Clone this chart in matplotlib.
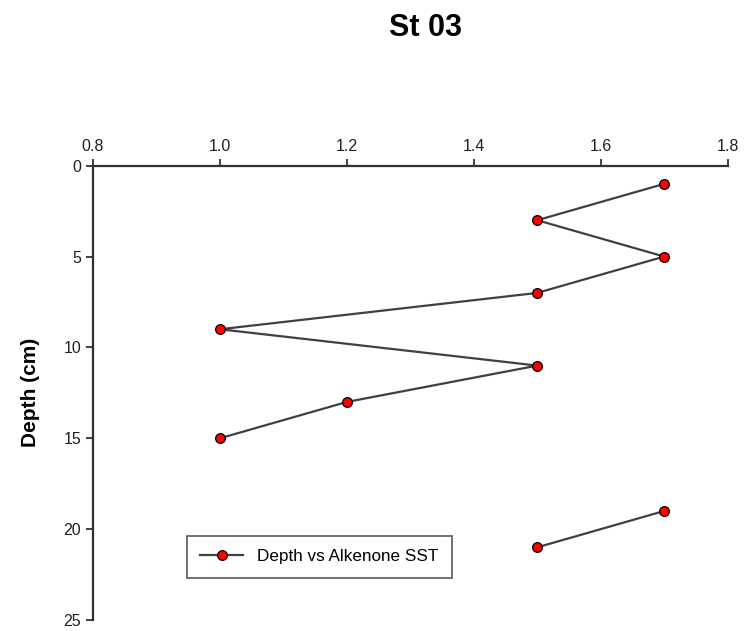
import numpy as np
import matplotlib.pyplot as plt

depth = [1, 3, 5, 7, 9, 11, 13, 15, 17, 19, 21]
sst = [1.7, 1.5, 1.7, 1.5, 1.0, 1.5, 1.2, 1.0, np.nan, 1.7, 1.5]
x_ticks = [0.8, 1.0, 1.2, 1.4, 1.6, 1.8]
y_ticks = [0, 5, 10, 15, 20, 25]


def main():
    plt.rcParams['font.family'] = ['Liberation Sans', 'DejaVu Sans']
    fig = plt.figure(figsize=(7.44, 6.31), dpi=100)
    ax = fig.add_axes([0.125, 0.0174, 0.853, 0.72])

    ax.plot(sst, depth, color='#404040', lw=1.6, marker='o', ms=7,
            mfc='red', mec='black', mew=0.9, label='Depth vs Alkenone SST')

    ax.set_xlim(0.8, 1.8)
    ax.set_ylim(25, 0)
    ax.set_xticks(x_ticks)
    ax.set_xticklabels([f'{v:.1f}' for v in x_ticks])
    ax.set_yticks(y_ticks)
    ax.xaxis.tick_top()
    for s in ['right', 'bottom']:
        ax.spines[s].set_visible(False)
    for s in ['top', 'left']:
        ax.spines[s].set_color('#303030')
        ax.spines[s].set_linewidth(1.6)
    ax.tick_params(axis='both', labelsize=11.5, colors='#202020', length=5, width=1.2)
    ax.set_ylabel('Depth (cm)', fontsize=15, fontweight='bold', labelpad=17)

    fig.text(0.572, 0.955, 'St 03', ha='center', va='center', fontsize=22, fontweight='bold')

    leg = ax.legend(loc='upper left', bbox_to_anchor=(0.251, 0.151), bbox_transform=fig.transFigure,
                    fontsize=12.3, frameon=True, fancybox=False, edgecolor='#303030',
                    borderpad=0.8, handlelength=2.5, borderaxespad=0)
    leg.get_frame().set_linewidth(1.2)

    plt.savefig('out.png', dpi=100)


if __name__ == '__main__':
    main()
